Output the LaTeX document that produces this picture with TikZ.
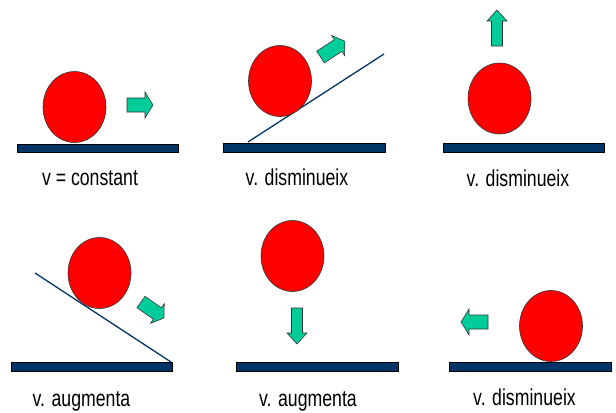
\documentclass[tikz,border=0pt]{standalone}
\usepackage{fontspec}
\setmainfont{Liberation Sans}
\definecolor{blaufosc}{RGB}{0,51,102}
\definecolor{vermell}{RGB}{255,0,0}
\definecolor{verdmar}{RGB}{0,204,153}
\usepackage{tikz}
\usetikzlibrary{positioning}

\newcommand{\etiq}[1]{\scalebox{1}[1.3]{#1}}
\newcommand{\fletxa}[6]{% cua, angle, llarg, mig tija, mig cap, cap
  \begin{scope}[shift={(#1)},rotate=#2]
    \draw[fletxa] (0,-#4) -- ({#3-#6},-#4) -- ({#3-#6},-#5) -- (#3,0)
      -- ({#3-#6},#5) -- ({#3-#6},#4) -- (0,#4) -- cycle;
  \end{scope}}

\begin{document}
\begin{tikzpicture}[x=0.03cm,y=-0.03cm,
  terra/.style={draw=black,line width=0.4pt,fill=blaufosc},
  rampa/.style={draw=blaufosc,line width=1.1pt},
  pilota/.style={draw=black!80,line width=0.5pt,fill=vermell},
  fletxa/.style={draw=black!80,line width=0.5pt,fill=verdmar,line join=miter},
  rotul/.style={anchor=base,font=\fontsize{15.1}{18}\selectfont,inner sep=0pt}
]
  \useasboundingbox (0,0) rectangle (616,412);
  % fila de dalt
  \draw[terra] (17,144) rectangle (178,152);
  \draw[pilota] (74.5,107) ellipse [x radius=31.5,y radius=35.5];
  \fletxa{127,105}{0}{26}{7}{13}{8}
  \node[rotul] (t1) at (90,185) {\etiq{v = constant}};

  \draw[terra] (223,143) rectangle (385,152);
  \draw[rampa] (248,142) -- (384,54);
  \draw[pilota] (280,81) ellipse [x radius=31.5,y radius=35.5];
  \fletxa{320.5,57}{33}{29}{7}{12}{8}
  \node[rotul] (t2) at (297,185) {\etiq{v. disminueix}};

  \draw[terra] (443,143) rectangle (604,152);
  \draw[pilota] (499.5,98.5) ellipse [x radius=31.5,y radius=35.5];
  \fletxa{497,46}{90}{36}{5.5}{10}{11}
  \node[rotul] (t3) at (518,186) {\etiq{v. disminueix}};
  % fila de baix
  \draw[terra] (11,362) rectangle (172,371);
  \draw[rampa] (35,273) -- (171,362);
  \draw[pilota] (99.5,273) ellipse [x radius=31.5,y radius=35.5];
  \fletxa{141,302}{-35}{28}{7}{12}{8}
  \node[rotul] (t4) at (81.5,406) {\etiq{v. augmenta}};

  \draw[terra] (236,362) rectangle (398,371);
  \draw[pilota] (292.5,256) ellipse [x radius=31.5,y radius=35.5];
  \fletxa{297,308}{-90}{36}{5.5}{10}{11}
  \node[rotul] (t5) at (308,406) {\etiq{v. augmenta}};

  \draw[terra] (449,362) rectangle (611,371);
  \draw[pilota] (551,326) ellipse [x radius=31.5,y radius=35.5];
  \fletxa{488,322}{180}{27}{7}{13}{8}
  \node[rotul] (t6) at (524.5,405) {\etiq{v. disminueix}};
\end{tikzpicture}
\end{document}
